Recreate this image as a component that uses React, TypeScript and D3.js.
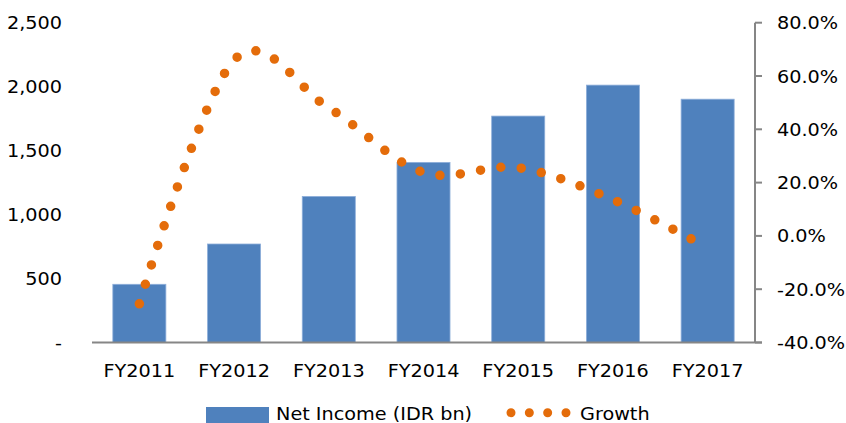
import React from "react";
import * as d3 from "d3";

const categories = ["FY2011", "FY2012", "FY2013", "FY2014", "FY2015", "FY2016", "FY2017"];
const netIncome = [455, 770, 1142, 1408, 1770, 2012, 1902];
const growth = [-25.5, 66, 48, 23.8, 25.6, 13.6, -4.5];
const leftTicks = [0, 500, 1000, 1500, 2000, 2500];
const rightTicks = [-40, -20, 0, 20, 40, 60, 80];
const seriesNames = ["Net Income (IDR bn)", "Growth"];

const W = 846;
const H = 423;
const X0 = 92;
const X1 = 755;
const Y0 = 342.5;
const Y1 = 22.7;
const FONT = "DejaVu Sans";
const FS = 17.5;
const SX = 1.1;
const BAR = "#4F81BD";
const ORANGE = "#E46C0A";
const AXIS = "#868686";

export default function App() {
  const x = d3.scaleBand<string>().domain(categories).range([X0, X1]).paddingInner(0.44).paddingOuter(0.22);
  const yL = d3.scaleLinear().domain([0, 2500]).range([Y0, Y1]);
  const yR = d3.scaleLinear().domain([-40, 80]).range([Y0, Y1]);
  const cx = (c: string) => (x(c) as number) + x.bandwidth() / 2;

  const line = d3
    .line<number>()
    .x((_, i) => cx(categories[i]))
    .y((d) => yR(d))
    .curve(d3.curveCardinal.tension(0));

  const txt = (s: string, tx: number, ty: number, anchor: string, key?: string) => (
    <text
      key={key}
      transform={`translate(${tx},${ty}) scale(${SX},1)`}
      textAnchor={anchor}
      fontFamily={FONT}
      fontSize={FS}
      fill="#000"
    >
      {s}
    </text>
  );

  return (
    <svg width={W} height={H} style={{ position: "absolute", left: 0, top: 0, background: "#fff" }}>
      {netIncome.map((v, i) => (
        <rect
          key={categories[i]}
          x={x(categories[i])}
          y={yL(v)}
          width={x.bandwidth()}
          height={Y0 - yL(v)}
          fill={BAR}
          stroke="#8EAEDA"
          strokeWidth={0.8}
        />
      ))}
      {/* bottom axis */}
      <line x1={X0} x2={X1 + 7} y1={Y0} y2={Y0} stroke={AXIS} strokeWidth={2} />
      {/* right axis */}
      <line x1={X1} x2={X1} y1={Y1} y2={Y0} stroke={AXIS} strokeWidth={2} />
      {rightTicks.map((t) => (
        <line key={"rt" + t} x1={X1} x2={X1 + 7} y1={yR(t)} y2={yR(t)} stroke={AXIS} strokeWidth={2} />
      ))}
      {leftTicks.map((t) => txt(t === 0 ? "-" : d3.format(",")(t), 62, yL(t) + 6.5, "end", "lt" + t))}
      {rightTicks.map((t) => txt(`${t.toFixed(1)}%`, 777, yR(t) + 6.5, "start", "rl" + t))}
      {categories.map((c) => txt(c, cx(c), 377, "middle", "c" + c))}
      <path
        d={line(growth) as string}
        fill="none"
        stroke={ORANGE}
        strokeWidth={9.5}
        strokeLinecap="round"
        strokeDasharray="0 20.5"
      />
      {/* legend */}
      <rect x={206} y={407} width={63} height={16} fill={BAR} />
      {txt(seriesNames[0], 276, 420, "start", "l0")}
      <line x1={511} x2={566.5} y1={412.7} y2={412.7} stroke={ORANGE} strokeWidth={9} strokeLinecap="round" strokeDasharray="0 18.33" />
      {txt(seriesNames[1], 580, 420, "start", "l1")}
    </svg>
  );
}
